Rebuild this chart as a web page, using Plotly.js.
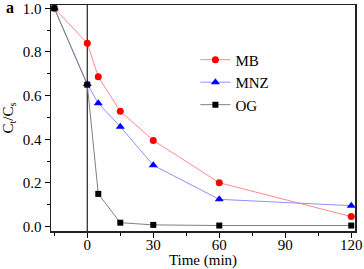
<!DOCTYPE html>
<html><head><meta charset="utf-8">
<script src="https://cdn.plot.ly/plotly-3.0.1.min.js"></script>
<style>html,body{margin:0;padding:0;background:#fff}#c{width:364px;height:269px}</style>
</head><body><div id="c"></div>
<script>
const time = [-15, 0, 5, 15, 30, 60, 120];
const mb  = [1.0, 0.84, 0.686, 0.528, 0.395, 0.201, 0.046];
const mnz = [1.0, 0.653, 0.565, 0.458, 0.281, 0.125, 0.096];
const og  = [1.0, 0.65, 0.150, 0.018, 0.008, 0.005, 0.005];
const names = ['MB', 'MNZ', 'OG'];
const fontF = 'Liberation Serif, DejaVu Serif, serif';

const traces = [
  {x: time, y: mb, name: names[0], mode: 'lines+markers', type: 'scatter',
   line: {color: '#ff8a8a', width: 1}, marker: {color: '#ff0000', symbol: 'circle', size: 7}},
  {x: time, y: mnz, name: names[1], mode: 'lines+markers', type: 'scatter',
   line: {color: '#8f8fff', width: 1}, marker: {color: '#0000ff', symbol: 'triangle-up', size: 8}},
  {x: time, y: og, name: names[2], mode: 'lines+markers', type: 'scatter',
   line: {color: '#808080', width: 1}, marker: {color: '#000000', symbol: 'square', size: 6}}
];

const layout = {
  width: 364, height: 269,
  margin: {l: 51, r: 9, t: 5, b: 38, pad: 0},
  paper_bgcolor: '#fff', plot_bgcolor: '#fff',
  font: {family: fontF, size: 14, color: '#000'},
  showlegend: true,
  legend: {x: 0.475, y: 0.83, xanchor: 'left', yanchor: 'top', bgcolor: 'rgba(0,0,0,0)',
           font: {family: fontF, size: 15, color: '#000'}, tracegroupgap: 0, itemwidth: 30},
  xaxis: {
    range: [-16.5, 121.7], tickmode: 'array', tickvals: [0, 30, 60, 90, 120], ticks: 'outside', ticklen: 5,
    tickwidth: 1, tickcolor: '#000', ticklabelstandoff: -6,
    minor: {tickvals: [-15, 15, 45, 75, 105], ticks: 'outside', ticklen: 3, tickcolor: '#000'},
    showline: true, linecolor: '#222', linewidth: 1.5, mirror: true, showgrid: false, zeroline: false,
    title: {text: 'Time (min)', font: {family: fontF, size: 15, color: '#000'}, standoff: 10},
    tickfont: {family: fontF, size: 15, color: '#000'}
  },
  yaxis: {
    range: [-0.02, 1.015], tickmode: 'array', tickvals: [0, 0.2, 0.4, 0.6, 0.8, 1.0], ticktext: ['0.0','0.2','0.4','0.6','0.8','1.0'],
    ticks: 'outside', ticklen: 5, tickwidth: 1, tickcolor: '#000',
    minor: {tickvals: [0.1, 0.3, 0.5, 0.7, 0.9], ticks: 'outside', ticklen: 3, tickcolor: '#000'},
    showline: true, linecolor: '#222', linewidth: 1.5, mirror: true, showgrid: false, zeroline: false,
    title: {text: 'C<sub>t</sub>/C<sub>s</sub>', font: {family: fontF, size: 15, color: '#000'}, standoff: 6},
    tickfont: {family: fontF, size: 15, color: '#000'}
  },
  shapes: [{type: 'line', xref: 'x', yref: 'paper', x0: 0, x1: 0, y0: 0, y1: 1,
            line: {color: '#333', width: 1.3}, layer: 'below'}],
  annotations: [{text: '<b>a</b>', xref: 'paper', yref: 'paper', x: -0.135, y: 0.99, xanchor: 'center', yanchor: 'middle',
                 showarrow: false, font: {family: fontF, size: 16, color: '#000'}}]
};
Plotly.newPlot('c', traces, layout, {displayModeBar: false, staticPlot: true});
</script></body></html>
